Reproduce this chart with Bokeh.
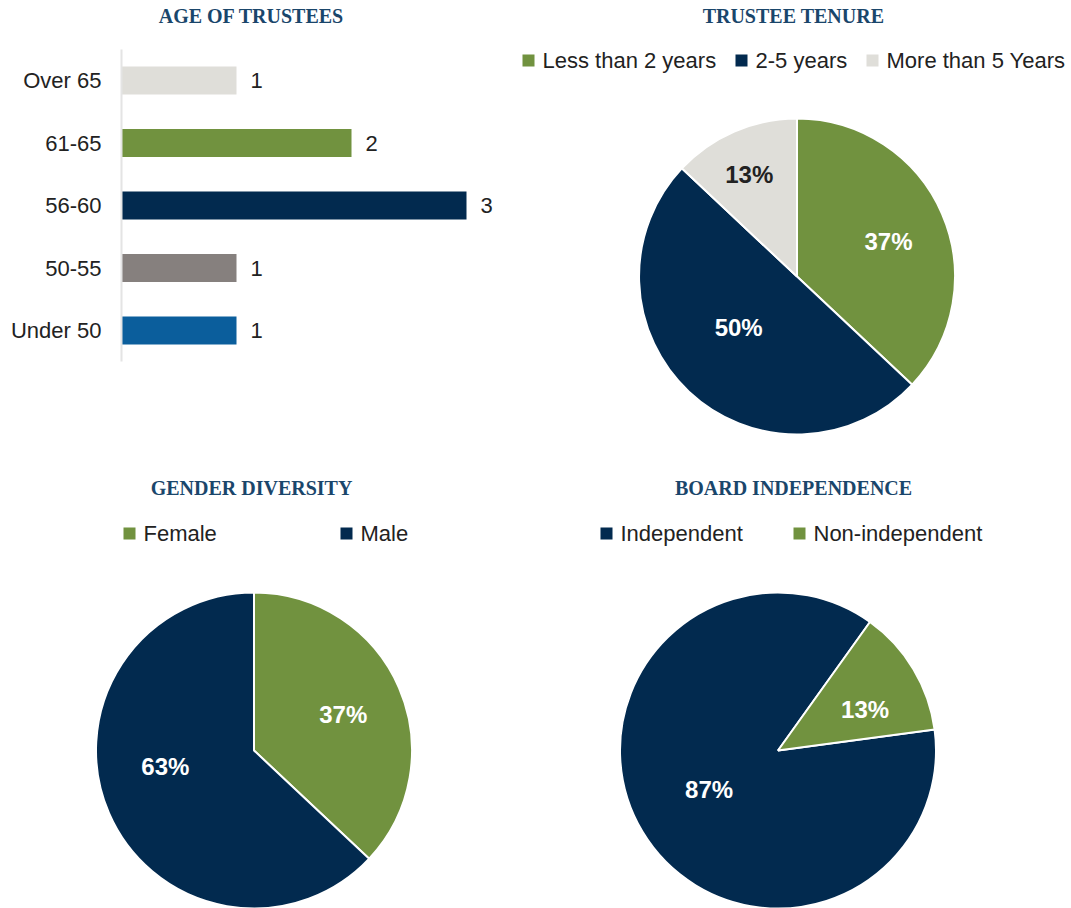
import math
from bokeh.plotting import figure
from bokeh.layouts import row, column
from bokeh.models import Range1d, FixedTicker, ColumnDataSource, Label
from bokeh.core.properties import value
from bokeh.embed import file_html
from bokeh.resources import INLINE

# ---------------- data ----------------
age_categories = ["Under 50", "50-55", "56-60", "61-65", "Over 65"]
age_counts = [1, 1, 3, 2, 1]

tenure_labels = ["Less than 2 years", "2-5 years", "More than 5 Years"]
tenure_pct = [37, 50, 13]

gender_labels = ["Female", "Male"]
gender_pct = [37, 63]

indep_labels = ["Independent", "Non-independent"]
indep_pct = [87, 13]

titles = ["AGE OF TRUSTEES", "TRUSTEE TENURE", "GENDER DIVERSITY", "BOARD INDEPENDENCE"]

# ---------------- style ----------------
GREEN = "#71923f"
NAVY = "#022a4f"
LIGHT = "#dfded9"
GRAY = "#86807e"
BLUE = "#0b5e9c"
TITLE_C = "#1a466b"
TXT = "#222222"
SANS = "Liberation Sans"
SERIF = "Liberation Serif"

age_colors = [BLUE, GRAY, NAVY, GREEN, LIGHT]

W_LEFT, W_RIGHT = 510, 561
H_TOP, H_BOT = 468, 440
PIE_R = 158.0


def style_title(p, x, y, text):
    p.add_layout(Label(x=x, y=y, text=text, text_align="center", text_baseline="middle",
                       text_font=SERIF, text_font_style="bold", text_font_size="20px",
                       text_color=TITLE_C))


# ---------------- panel 1: bar chart ----------------
bar_px = 115.0      # px per count
band_px = 62.5      # px per category
left_border = 121
top_cat_y = 80      # px from top of figure to centre of top category
n = len(age_categories)
y_top = (n - 1) + top_cat_y / band_px
y_bot = y_top - H_TOP / band_px

p1 = figure(width=W_LEFT, height=H_TOP, output_backend="svg", toolbar_location=None,
            x_range=Range1d(0, (W_LEFT - left_border) / bar_px),
            y_range=Range1d(y_bot, y_top), x_axis_location=None,
            min_border_left=left_border, min_border_right=0, min_border_top=0, min_border_bottom=0)
p1.outline_line_color = None
p1.xgrid.visible = False
p1.ygrid.visible = False

src1 = ColumnDataSource(dict(idx=list(range(n)), count=age_counts, color=age_colors,
                             label=[str(c) for c in age_counts]))
p1.hbar(y="idx", left=0, right="count", height=0.45, fill_color="color", line_color=None, source=src1)
p1.text(x="count", y="idx", text="label", x_offset=14, text_align="left", text_baseline="middle",
        text_font=value(SANS), text_font_size="22px", text_color=TXT, source=src1)

ax = p1.yaxis[0]
ax.ticker = FixedTicker(ticks=list(range(n)))
ax.major_label_overrides = {i: c for i, c in enumerate(age_categories)}
ax.bounds = (-0.5, n - 0.5)
ax.axis_line_color = "#e4e4e4"
ax.axis_line_width = 2
ax.major_tick_line_color = None
ax.minor_tick_line_color = None
ax.major_tick_out = 0
ax.major_tick_in = 0
ax.minor_tick_out = 0
ax.minor_tick_in = 0
ax.major_label_standoff = 20
ax.major_label_text_font = SANS
ax.major_label_text_font_size = "22px"
ax.major_label_text_color = TXT

style_title(p1, (251 - left_border) / bar_px, y_top - 15 / band_px, titles[0])


# ---------------- pie panels ----------------
def pie_panel(width, height, cx, cy, title, title_pos, labels, pct, colors, start_deg,
              pct_colors, nudge_deg, label_r, legend_text_x, legend_y):
    R = PIE_R
    p = figure(width=width, height=height, output_backend="svg", toolbar_location=None,
               x_range=Range1d(-cx / R, (width - cx) / R),
               y_range=Range1d(-(height - cy) / R, cy / R),
               x_axis_location=None, y_axis_location=None, min_border=0)
    p.outline_line_color = None
    p.xgrid.visible = False
    p.ygrid.visible = False

    total = float(sum(pct))
    starts, ends, lx, ly = [], [], [], []
    cum = 0.0
    for v, nd, r in zip(pct, nudge_deg, label_r):
        a0 = math.radians(start_deg) - 2 * math.pi * cum / total
        a1 = a0 - 2 * math.pi * v / total
        cum += v
        starts.append(a1)
        ends.append(a0)
        mid = (a0 + a1) / 2 + math.radians(nd)
        lx.append(r * math.cos(mid))
        ly.append(r * math.sin(mid))

    src = ColumnDataSource(dict(start=starts, end=ends, color=colors,
                                txt=[f"{v}%" for v in pct], tc=pct_colors, lx=lx, ly=ly))
    p.wedge(x=0, y=0, radius=1, start_angle="start", end_angle="end", direction="anticlock",
            fill_color="color", line_color="white", line_width=2, source=src)
    p.text(x="lx", y="ly", text="txt", text_color="tc", text_align="center", text_baseline="middle",
           text_font=value(SANS), text_font_style="bold", text_font_size="24px", source=src)

    # legend
    ly_d = (cy - legend_y) / R
    sq_x = [(tx - 14 - cx) / R for tx in legend_text_x]
    tx_d = [(tx - cx) / R for tx in legend_text_x]
    p.scatter(x=sq_x, y=[ly_d] * len(labels), marker="square", size=12, fill_color=colors,
              line_color=None)
    p.text(x=tx_d, y=[ly_d] * len(labels), text=labels, text_align="left", text_baseline="middle",
           text_font=value(SANS), text_font_size="22px", text_color=TXT)

    style_title(p, (title_pos[0] - cx) / R, (cy - title_pos[1]) / R, title)
    return p


p2 = pie_panel(W_RIGHT, H_TOP, 286.5, 276, titles[1], (283, 15), tenure_labels, tenure_pct,
               [GREEN, NAVY, LIGHT], 90, ["white", "white", TXT],
               [-2.5, -5.7, 1.8], [0.62, 0.49, 0.71], [32, 245, 376], 60)

p3 = pie_panel(W_LEFT, H_BOT, 253.5, 282, titles[2], (251, 19), gender_labels, gender_pct,
               [GREEN, NAVY], 90, ["white", "white"],
               [-1.2, -13.4], [0.61, 0.57], [143, 360], 65)

p4 = pie_panel(W_RIGHT, H_BOT, 267.5, 282, titles[3], (283, 19), indep_labels, indep_pct,
               [NAVY, GREEN], 7.6, ["white", "white"],
               [-1.7, -5.6], [0.50, 0.61], [110, 303], 65)

layout = column(row(p1, p2), row(p3, p4))
open("out.html", "w").write(file_html(layout, INLINE))
